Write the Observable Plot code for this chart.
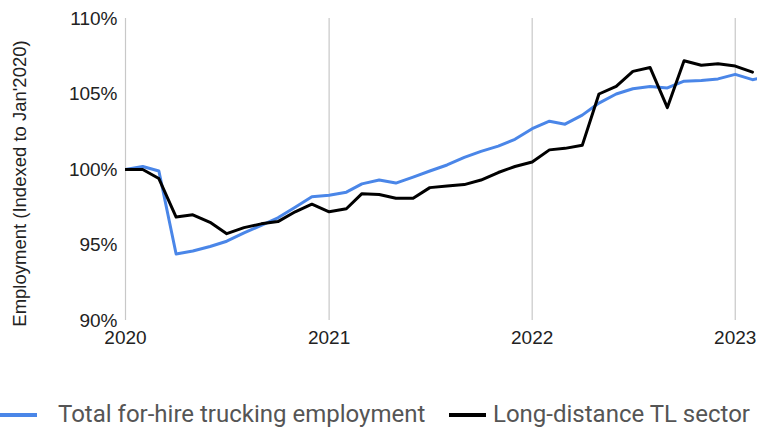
<!DOCTYPE html>
<html>
<head>
<meta charset="utf-8">
<script src="https://cdn.jsdelivr.net/npm/d3@7"></script>
<script src="https://cdn.jsdelivr.net/npm/@observablehq/plot@0.6"></script>
<style>
  html, body { margin: 0; padding: 0; background: #fff; overflow: hidden; }
  #legend { position: absolute; left: 0; top: 399px; width: 757px; height: 30px;
    font-family: Roboto, sans-serif; font-size: 24px; color: #555; white-space: nowrap; }
  .item { position: absolute; top: 0; line-height: 30px; }
  .sw { position: absolute; top: 14px; height: 4px; width: 37px; }
</style>
</head>
<body>
<div id="chart"></div>
<div id="legend"></div>
<script>
const months = [
  "2020-01","2020-02","2020-03","2020-04","2020-05","2020-06","2020-07","2020-08","2020-09","2020-10","2020-11","2020-12",
  "2021-01","2021-02","2021-03","2021-04","2021-05","2021-06","2021-07","2021-08","2021-09","2021-10","2021-11","2021-12",
  "2022-01","2022-02","2022-03","2022-04","2022-05","2022-06","2022-07","2022-08","2022-09","2022-10","2022-11","2022-12",
  "2023-01","2023-02","2023-03"
];
const totalForHire = [
  100.0, 100.2, 99.9, 94.4, 94.6, 94.9, 95.25, 95.8, 96.3, 96.8, 97.5, 98.2,
  98.3, 98.5, 99.05, 99.3, 99.1, 99.5, 99.9, 100.3, 100.8, 101.2, 101.55, 102.0,
  102.7, 103.2, 103.0, 103.6, 104.4, 105.0, 105.35, 105.5, 105.4, 105.85, 105.9, 106.0,
  106.3, 105.95, 106.15
];
const longDistanceTL = [
  100.0, 100.0, 99.4, 96.85, 97.0, 96.5, 95.75, 96.15, 96.4, 96.55, 97.2, 97.7,
  97.2, 97.4, 98.4, 98.35, 98.1, 98.1, 98.8, 98.9, 99.0, 99.3, 99.8, 100.2,
  100.5, 101.3, 101.4, 101.6, 105.0, 105.5, 106.5, 106.75, 104.1, 107.2, 106.9, 107.0,
  106.85, 106.45, null
];
const seriesNames = ["Total for-hire trucking employment", "Long-distance TL sector"];
const seriesColors = ["#4a86e8", "#000000"];
const yTicks = [90, 95, 100, 105, 110];
const yearTicks = ["2020-01-01", "2021-01-01", "2022-01-01", "2023-01-01"];
const yTitle = "Employment (Indexed to Jan'2020)";

const parse = d3.utcParse("%Y-%m");
const data = [];
months.forEach((m, i) => {
  if (totalForHire[i] != null) data.push({date: parse(m), value: totalForHire[i], series: seriesNames[0]});
});
months.forEach((m, i) => {
  if (longDistanceTL[i] != null) data.push({date: parse(m), value: longDistanceTL[i], series: seriesNames[1]});
});
const years = yearTicks.map(d => new Date(d));

const chart = Plot.plot({
  width: 757,
  height: 360,
  marginLeft: 125,
  marginRight: 0,
  marginTop: 18,
  marginBottom: 40,
  style: {fontFamily: "'Liberation Sans', Arial, sans-serif", fontSize: "18px", color: "#222", background: "#fff", overflow: "hidden"},
  x: {type: "utc", domain: [new Date("2020-01-01"), new Date("2023-02-10")], label: null},
  y: {domain: [90, 110], label: null},
  color: {domain: seriesNames, range: seriesColors},
  marks: [
    Plot.ruleX(years, {stroke: "#c8c8c8", strokeWidth: 1.2}),
    Plot.axisX({ticks: years, tickFormat: d3.utcFormat("%Y"), tickSize: 0, tickPadding: 10, fontSize: 19, label: null}),
    Plot.axisY({ticks: yTicks, tickFormat: d => d + "%", tickSize: 0, tickPadding: 8, fontSize: 19, label: null}),
    Plot.line(data, {x: "date", y: "value", z: "series", stroke: "series", strokeWidth: 3, clip: true}),
    Plot.text([yTitle], {frameAnchor: "left", textAnchor: "middle", dx: -105, dy: 14, rotate: -90, fontSize: 18.5, fill: "#222"})
  ]
});
document.getElementById("chart").appendChild(chart);

const legend = document.getElementById("legend");
const pos = [[0, 58], [449, 493]];
seriesNames.forEach((name, i) => {
  const sw = document.createElement("div");
  sw.className = "sw";
  sw.style.left = pos[i][0] + "px";
  sw.style.background = seriesColors[i];
  legend.appendChild(sw);
  const t = document.createElement("div");
  t.className = "item";
  t.style.left = pos[i][1] + "px";
  t.textContent = name;
  legend.appendChild(t);
});
</script>
</body>
</html>
